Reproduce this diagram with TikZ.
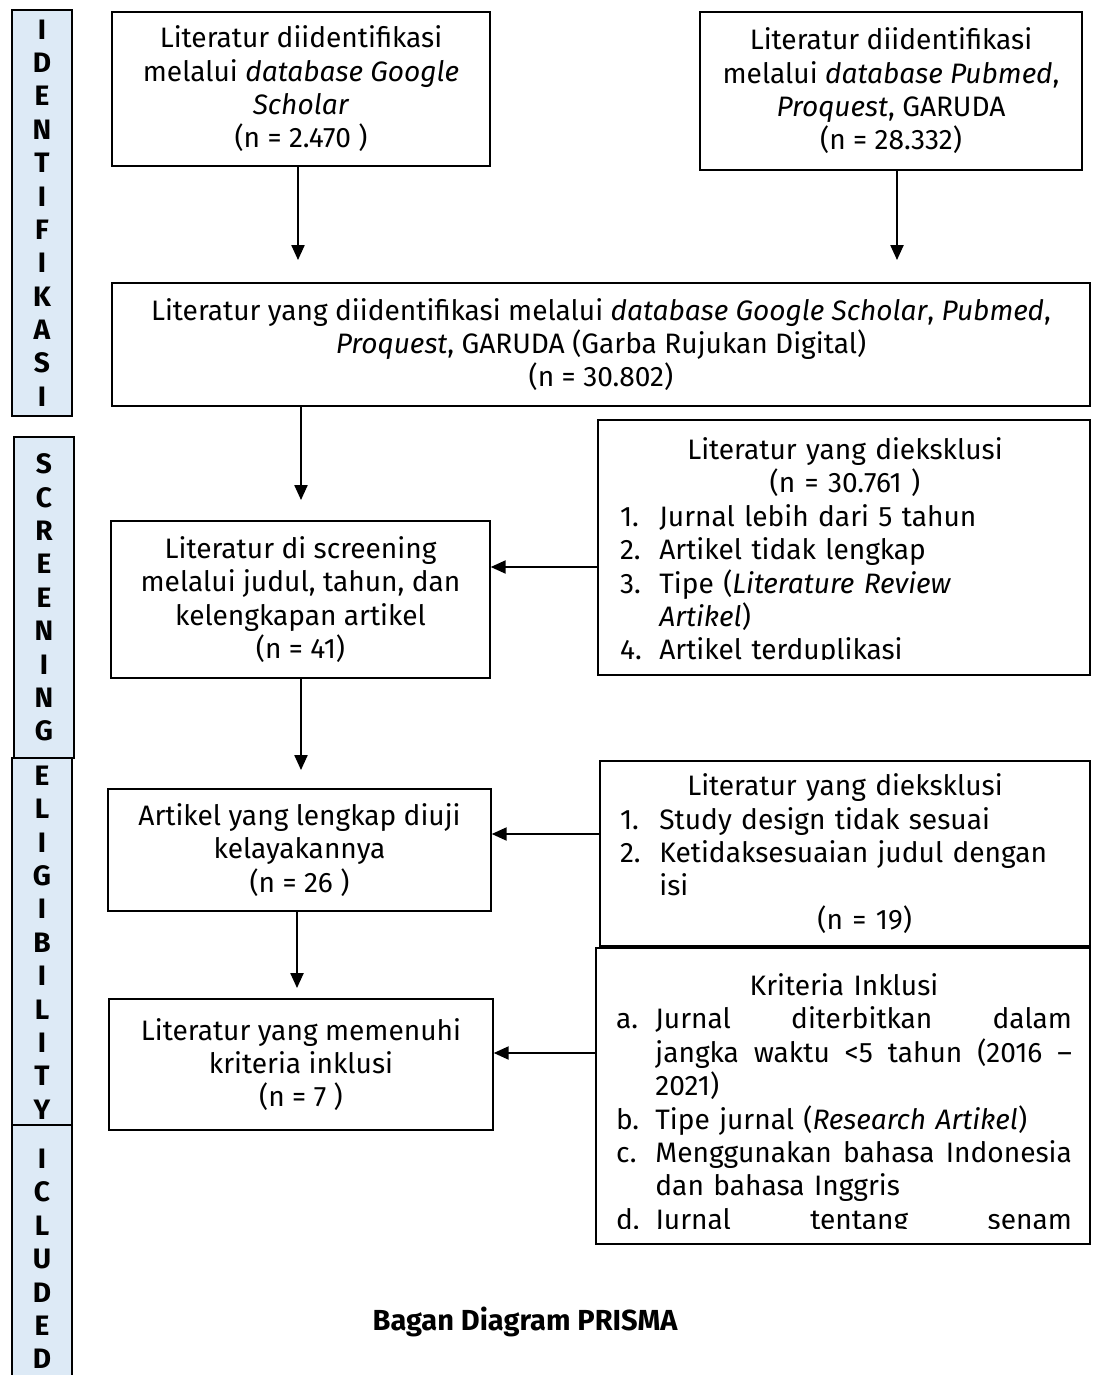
\documentclass[tikz,border=0pt]{standalone}
\usepackage{fontspec}
\setmainfont{Fira Sans}
\usetikzlibrary{arrows.meta}
\definecolor{barblue}{RGB}{221,234,246}
\newcommand{\lbl}[1]{\makebox[1.4em][l]{#1}}
\newcommand{\lblsp}{\hspace*{1.4em}}
\newcommand{\just}[1]{\hbox to \dimexpr\linewidth-1.4em\relax{#1}}

\begin{document}
\begin{tikzpicture}[x=0.02cm, y=-0.02cm,
        txt/.style={font=\fontsize{16}{19}\selectfont},
        box/.style={draw, line width=0.9pt, inner sep=0pt, align=center, txt},
        list/.style={inner sep=0pt, align=left, text width=9cm, txt},
        bar/.style={draw, line width=0.9pt, fill=barblue, inner sep=0pt, align=center,
            minimum width=1.2cm, font=\fontsize{16}{19}\selectfont\bfseries},
        arr/.style={line width=0.9pt, -{Triangle[length=8.5pt, width=7.5pt]}}]

                    \useasboundingbox (0,0) rectangle (1092,1375);

                    % tahapan di kiri
                    \node[bar, minimum height=8.12cm] (bid) at (42,213) {I\\D\\E\\N\\T\\I\\F\\I\\K\\A\\S\\I};
                    \node[bar, minimum height=6.42cm] (bsc) at (44,597.5) {S\\C\\R\\E\\E\\N\\I\\N\\G};
                    \node[bar, minimum height=7.38cm] (bel) at (42,942.5) {E\\L\\I\\G\\I\\B\\I\\L\\I\\T\\Y};
                    \node[bar, minimum height=5.36cm] (bin) at (42,1259) {I\\C\\L\\U\\D\\E\\D};

                    \node[box, minimum width=7.56cm, minimum height=3.08cm] (gs) at (301,89)
                        {Literatur diidentifikasi\\ melalui \textit{database Google}\\ \textit{Scholar}\\ (n = 2.470 )};
                    \node[box, minimum width=7.64cm, minimum height=3.16cm] (pm) at (891,91)
                        {Literatur diidentifikasi\\ melalui \textit{database Pubmed},\\ \textit{Proquest}, GARUDA\\ (n = 28.332)};
                    \node[box, minimum width=19.56cm, minimum height=2.46cm] (gab) at (601,344.5)
                        {Literatur yang diidentifikasi melalui \textit{database Google Scholar}, \textit{Pubmed},\\
                         \textit{Proquest}, GARUDA (Garba Rujukan Digital)\\ (n = 30.802)};
                    \node[box, minimum width=7.58cm, minimum height=3.14cm] (scr) at (300.5,599.5)
                        {Literatur di screening\\ melalui judul, tahun, dan\\ kelengkapan artikel\\ (n = 41)};
                    \node[box, minimum width=7.66cm, minimum height=2.44cm] (kel) at (299.5,850)
                        {Artikel yang lengkap diuji\\ kelayakannya\\ (n = 26 )};
                    \node[box, minimum width=7.68cm, minimum height=2.62cm] (inkl) at (301,1064.5)
                        {Literatur yang memenuhi\\ kriteria inklusi\\ (n = 7 )};

                    \node[box, minimum width=9.84cm, minimum height=5.10cm] (eks1) at (844,547.5) {};
                    \begin{scope}
                        \clip (eks1.north west) rectangle ([yshift=0.32cm]eks1.south east);
                        \node[list, anchor=base] (eks1txt) at (845,459.5)
                            {\makebox[\linewidth]{Literatur yang dieksklusi}\\
                             \makebox[\linewidth]{(n = 30.761 )}\\
                             \lbl{1.}Jurnal lebih dari 5 tahun\\
                             \lbl{2.}Artikel tidak lengkap\\
                             \lbl{3.}Tipe (\textit{Literature Review}\\
                             \lblsp\textit{Artikel})\\
                             \lbl{4.}Artikel terduplikasi};
                    \end{scope}

                    \node[box, align=left, text width=9cm, minimum width=9.8cm, minimum height=3.7cm] (eks2) at (845,853.5)
                        {\makebox[\linewidth]{Literatur yang dieksklusi}\\
                         \lbl{1.}Study design tidak sesuai\\
                         \lbl{2.}Ketidaksesuaian judul dengan\\
                         \lblsp isi\\
                         \lblsp\makebox[\dimexpr\linewidth-1.4em\relax]{(n = 19)}};

                    \node[box, minimum width=9.88cm, minimum height=5.92cm] (krit) at (843,1096) {};
                    \begin{scope}
                        \clip (krit.north west) rectangle ([yshift=0.32cm]krit.south east);
                        \node[list, text width=9.12cm, anchor=base] (krittxt) at (844,995.5)
                            {\makebox[\linewidth]{Kriteria Inklusi}\\
                             \lbl{a.}\just{Jurnal\hfill diterbitkan\hfill dalam}\\
                             \lblsp\just{jangka\hfill waktu\hfill <5\hfill tahun\hfill (2016\hfill –}\\
                             \lblsp 2021)\\
                             \lbl{b.}Tipe jurnal (\textit{Research Artikel})\\
                             \lbl{c.}\just{Menggunakan\hfill bahasa\hfill Indonesia}\\
                             \lblsp dan bahasa Inggris\\
                             \lbl{d.}\just{Jurnal\hfill tentang\hfill senam}};
                    \end{scope}

                    % ujung panah
                    \coordinate (t1) at (298,260);
                    \coordinate (t2) at (897,260);
                    \coordinate (t3) at (301,500);
                    \coordinate (t4) at (301,770);
                    \coordinate (t5) at (297,988);
                    \coordinate (y1) at (0,567);
                    \coordinate (y2) at (0,834);
                    \coordinate (y3) at (0,1053);

                    \draw[arr] (gs.south -| t1) -- (t1);
                    \draw[arr] (pm.south -| t2) -- (t2);
                    \draw[arr] (gab.south -| t3) -- (t3);
                    \draw[arr] (eks1.west |- y1) -- (scr.east |- y1);
                    \draw[arr] (scr.south -| t4) -- (t4);
                    \draw[arr] (eks2.west |- y2) -- (kel.east |- y2);
                    \draw[arr] (kel.south -| t5) -- (t5);
                    \draw[arr] (krit.west |- y3) -- (inkl.east |- y3);

                    \node[font=\fontsize{16.5}{19}\selectfont\bfseries] (cap) at (525,1322) {Bagan Diagram PRISMA};

                \end{tikzpicture}
\end{document}
